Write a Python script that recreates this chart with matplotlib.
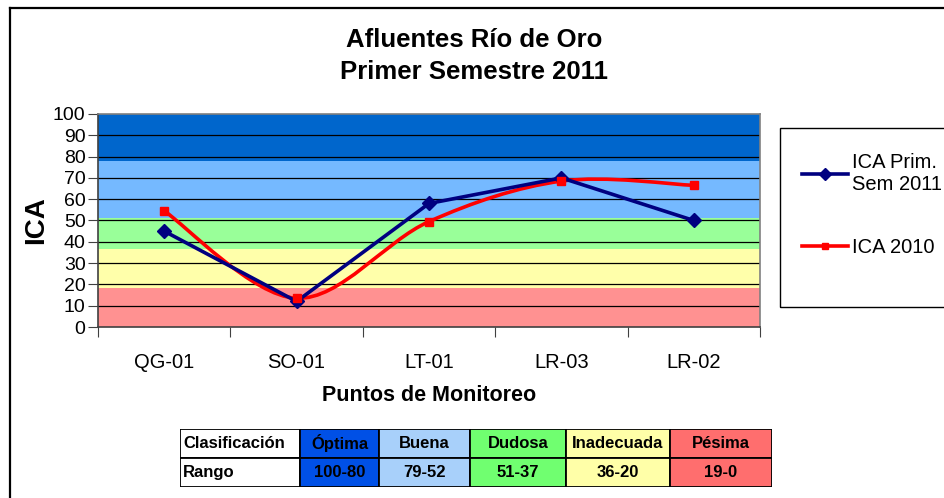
import matplotlib
matplotlib.use("Agg")
import matplotlib.pyplot as plt
from matplotlib.path import Path
from matplotlib.patches import PathPatch, Rectangle
from matplotlib.lines import Line2D

plt.rcParams['font.family'] = ['Liberation Sans', 'DejaVu Sans']

# Datos
puntos = ["QG-01", "SO-01", "LT-01", "LR-03", "LR-02"]
ica_2011 = [45, 12, 58, 70, 50]
ica_2010 = [54.5, 13.5, 49.5, 68.5, 66.5]

# Bandas de clasificacion (limite inferior, limite superior)
bandas = [(0, 18.2), (18.2, 36.4), (36.4, 51.4), (51.4, 78), (78, 100)]
colores_bandas = ["#FF9191", "#FFFFAA", "#99FF99", "#75B9FF", "#0066CC"]

# Tabla de clasificacion
tabla_cabecera = ["Clasificación", "Óptima", "Buena", "Dudosa", "Inadecuada", "Pésima"]
tabla_rango = ["Rango", "100-80", "79-52", "51-37", "36-20", "19-0"]
colores_tabla = ["#FFFFFF", "#0050E6", "#A8D0FA", "#70FF70", "#FFFFA8", "#FF6E6E"]
anchos_col = [120, 79, 91, 96, 104, 102]

W, H = 944, 498
fig = plt.figure(figsize=(W / 100, H / 100), dpi=100)

# Marco exterior del grafico
fig.add_artist(Line2D([10 / W, 10 / W], [-0.1, 1 - 8 / H], color="black", lw=1.6))
fig.add_artist(Line2D([10 / W, 1.1], [1 - 8 / H, 1 - 8 / H], color="black", lw=1.6))

ax = fig.add_axes([98 / W, 1 - 327 / H, 662 / W, 213 / H])
ax.set_xlim(0, len(puntos))
ax.set_ylim(0, 100)

for (lo, hi), c in zip(bandas, colores_bandas):
    ax.axhspan(lo, hi, color=c, lw=0, zorder=0)
for y in range(10, 100, 10):
    ax.axhline(y, color="black", lw=0.9, zorder=1)

xs = [i + 0.5 for i in range(len(puntos))]

# Linea 2011 (recta)
ax.plot(xs, ica_2011, color="#000080", lw=2.6, marker="D", markersize=7, zorder=4)

# Linea 2010 suavizada (curva tipo Excel con Bezier)
pts = list(zip(xs, ica_2010))
verts = [pts[0]]
codes = [Path.MOVETO]
for i in range(len(pts) - 1):
    p0 = pts[i - 1] if i > 0 else pts[i]
    p1 = pts[i]
    p2 = pts[i + 1]
    p3 = pts[i + 2] if i + 2 < len(pts) else pts[i + 1]
    c1 = (p1[0] + (p2[0] - p0[0]) / 6, p1[1] + (p2[1] - p0[1]) / 6)
    c2 = (p2[0] - (p3[0] - p1[0]) / 6, p2[1] - (p3[1] - p1[1]) / 6)
    verts += [c1, c2, p2]
    codes += [Path.CURVE4] * 3
ax.add_patch(PathPatch(Path(verts, codes), fill=False, edgecolor="#FF0000", lw=2.6, zorder=3))
ax.plot(xs, ica_2010, linestyle="none", color="#FF0000", marker="s", markersize=6, zorder=5)

ax.set_yticks(range(0, 101, 10))
ax.set_xticks(range(0, len(puntos) + 1))
ax.set_xticklabels([])
ax.set_xticks(xs, minor=True)
ax.set_xticklabels(puntos, minor=True)
ax.tick_params(axis="x", which="minor", length=0, labelsize=14.5, pad=19)
ax.tick_params(axis="x", which="major", length=7, direction="out", color="#404040")
ax.tick_params(axis="y", length=7, labelsize=14, pad=2, color="#404040")
for s in ["left", "bottom"]:
    ax.spines[s].set_color("#404040")
    ax.spines[s].set_linewidth(1.2)
for s in ["top", "right"]:
    ax.spines[s].set_color("#808080")
    ax.spines[s].set_linewidth(1.2)

ax.set_ylabel("ICA", fontsize=20, fontweight="bold", labelpad=3)
ax.set_xlabel("Puntos de Monitoreo", fontsize=15.5, fontweight="bold", labelpad=9)

fig.text(474 / W, 1 - 40 / H, "Afluentes Río de Oro", ha="center", va="center",
         fontsize=18.5, fontweight="bold")
fig.text(474 / W, 1 - 72 / H, "Primer Semestre 2011", ha="center", va="center",
         fontsize=18.5, fontweight="bold")

# Leyenda
fig.add_artist(Rectangle((780 / W, 1 - 307 / H), 0.3, 179 / H, transform=fig.transFigure,
                         fill=False, edgecolor="black", lw=1.0))
h1 = Line2D([], [], color="#000080", lw=2.6, marker="D", markersize=6)
h2 = Line2D([], [], color="#FF0000", lw=2.6, marker="s", markersize=5)
fig.legend([h1, h2], ["ICA Prim.\nSem 2011", "ICA 2010"], loc="upper left",
           bbox_to_anchor=(792 / W, 1 - 143 / H), frameon=False, fontsize=14.5,
           handlelength=2.3, handletextpad=0.2, labelspacing=2.2, borderpad=0)

# Tabla de clasificacion
tax = fig.add_axes([180 / W, 1 - 487 / H, 592 / W, 58 / H])
tax.set_xlim(0, sum(anchos_col))
tax.set_ylim(0, 2)
tax.axis("off")
x0 = 0
for j, w in enumerate(anchos_col):
    for fila, textos in ((1, tabla_cabecera), (0, tabla_rango)):
        tax.add_patch(Rectangle((x0, fila), w, 1, facecolor=colores_tabla[j],
                                edgecolor="black", lw=1.3))
        if j == 0:
            tax.text(x0 + 3, fila + 0.5, textos[j], ha="left", va="center",
                     fontsize=12, fontweight="bold")
        else:
            tax.text(x0 + w / 2, fila + 0.5, textos[j], ha="center", va="center",
                     fontsize=12, fontweight="bold")
    x0 += w

fig.savefig("out.png", dpi=100)
